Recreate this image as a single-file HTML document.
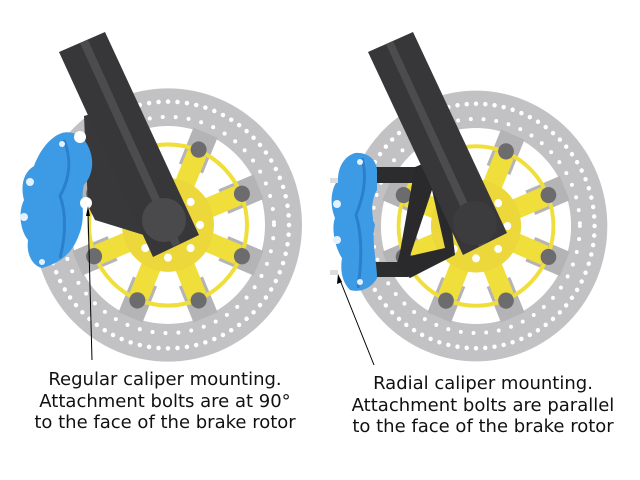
<!DOCTYPE html>
<html><head><meta charset="utf-8"><style>
html,body{margin:0;padding:0;background:#fff;width:640px;height:480px;overflow:hidden}
text{font-family:"DejaVu Sans","Liberation Sans",sans-serif;font-size:18px;fill:#111}
</style></head><body>
<svg width="640" height="480" viewBox="0 0 640 480" xmlns="http://www.w3.org/2000/svg">
<defs>
<g id="disc">
  <circle r="134" fill="#c2c2c4"/>
  <circle r="121" fill="none" stroke="#fff" stroke-width="4.5" stroke-dasharray="0 9.5" stroke-linecap="round"/>
  <circle r="106" fill="none" stroke="#fff" stroke-width="4" stroke-dasharray="0 13" stroke-linecap="round"/>
  <circle r="97" fill="#fff"/>
  <g stroke="#b4b4b6" stroke-width="26">
    <line x1="0" y1="-60" x2="0" y2="-98" transform="rotate(22.5)"/>
    <line x1="0" y1="-60" x2="0" y2="-98" transform="rotate(67.5)"/>
    <line x1="0" y1="-60" x2="0" y2="-98" transform="rotate(112.5)"/>
    <line x1="0" y1="-60" x2="0" y2="-98" transform="rotate(157.5)"/>
    <line x1="0" y1="-60" x2="0" y2="-98" transform="rotate(202.5)"/>
    <line x1="0" y1="-60" x2="0" y2="-98" transform="rotate(247.5)"/>
    <line x1="0" y1="-60" x2="0" y2="-98" transform="rotate(292.5)"/>
    <line x1="0" y1="-60" x2="0" y2="-98" transform="rotate(337.5)"/>
  </g>
  <circle r="79" fill="none" stroke="#f0df3a" stroke-width="4"/>
  <g stroke="#f0df3a" stroke-width="20">
    <line x1="0" y1="0" x2="0" y2="-76" transform="rotate(22.5)"/>
    <line x1="0" y1="0" x2="0" y2="-76" transform="rotate(67.5)"/>
    <line x1="0" y1="0" x2="0" y2="-76" transform="rotate(112.5)"/>
    <line x1="0" y1="0" x2="0" y2="-76" transform="rotate(157.5)"/>
    <line x1="0" y1="0" x2="0" y2="-76" transform="rotate(202.5)"/>
    <line x1="0" y1="0" x2="0" y2="-76" transform="rotate(247.5)"/>
    <line x1="0" y1="0" x2="0" y2="-76" transform="rotate(292.5)"/>
    <line x1="0" y1="0" x2="0" y2="-76" transform="rotate(337.5)"/>
  </g>
  <circle r="46" fill="#ecd83a"/>
  <circle r="32" fill="none" stroke="#fff" stroke-width="8" stroke-dasharray="0 25.1" stroke-linecap="round"/>
  <g fill="#6c6c6e">
    <circle cx="0" cy="-80" r="8" transform="rotate(22.5)"/>
    <circle cx="0" cy="-80" r="8" transform="rotate(67.5)"/>
    <circle cx="0" cy="-80" r="8" transform="rotate(112.5)"/>
    <circle cx="0" cy="-80" r="8" transform="rotate(157.5)"/>
    <circle cx="0" cy="-80" r="8" transform="rotate(202.5)"/>
    <circle cx="0" cy="-80" r="8" transform="rotate(247.5)"/>
    <circle cx="0" cy="-80" r="8" transform="rotate(292.5)"/>
    <circle cx="0" cy="-80" r="8" transform="rotate(337.5)"/>
  </g>
</g>
</defs>

<!-- LEFT -->
<use href="#disc" transform="translate(168,225) scale(1,1.02)"/>
<polygon points="84,116 120,105 160,240 95,220 88,206" fill="#38383a"/>
<polygon points="59,52 105,32 199,235 153,257" fill="#37373a"/>
<polygon points="80,43 88,40 180,243 173,247" fill="#4c4c4f"/>
<circle cx="164" cy="220" r="22" fill="#4a4a4d"/>
<path d="M62,133 C72,130 84,136 88,146 C95,160 93,175 84,185 C80,198 86,215 80,232 C74,250 64,262 42,268 C33,266 26,255 28,240 C20,230 18,212 24,200 C20,185 24,172 34,166 C40,150 50,137 62,133Z" fill="#3d9be6"/>
<path d="M64,140 C72,160 70,178 60,196 C66,212 66,235 60,258" stroke="#2a80cc" stroke-width="3" fill="none"/>
<circle cx="30" cy="182" r="4" fill="#e4f1ff"/><circle cx="24" cy="217" r="4" fill="#e4f1ff"/>
<circle cx="42" cy="262" r="3" fill="#e4f1ff"/><circle cx="62" cy="144" r="3" fill="#e4f1ff"/>
<circle cx="80" cy="137" r="6" fill="#fff"/><circle cx="86" cy="203" r="6" fill="#fff"/>
<line x1="88" y1="212" x2="92" y2="360" stroke="#000" stroke-width="1"/>
<polygon points="88,206 86,216 90,216" fill="#000"/>

<!-- RIGHT -->
<use href="#disc" transform="translate(476,226) scale(0.98,1.01)"/>
<rect x="372" y="167" width="48" height="16" fill="#2c2c2e"/>
<rect x="372" y="262" width="36" height="15" fill="#2c2c2e"/>
<path fill-rule="evenodd" d="M415,167 L432,160 L446,178 L455,255 L410,278 L396,268 L400,252 Z M432,190 L410,256 L445,248 Z" fill="#2a2a2c"/>
<polygon points="368,52 413,32 507,233 463,255" fill="#37373a"/>
<polygon points="386,44 393,41 486,243 479,247" fill="#4c4c4f"/>
<circle cx="475" cy="223" r="22" fill="#3c3c3f"/>
<path d="M355,153 C366,152 376,158 377,170 L377,190 C371,200 371,215 375,225 C371,240 377,262 377,278 C372,288 360,293 350,290 C342,282 340,270 342,258 C335,248 331,228 335,218 C330,206 330,190 338,180 C338,166 345,156 355,153Z" fill="#3d9be6"/>
<path d="M362,158 C368,180 362,200 356,215 C362,235 362,258 358,288" stroke="#2a80cc" stroke-width="3" fill="none"/>
<circle cx="337" cy="204" r="4" fill="#e4f1ff"/><circle cx="337" cy="240" r="4" fill="#e4f1ff"/>
<circle cx="360" cy="162" r="3" fill="#e4f1ff"/><circle cx="360" cy="282" r="3" fill="#e4f1ff"/>
<rect x="330" y="178" width="8" height="5" fill="#ddd"/><rect x="330" y="270" width="8" height="5" fill="#ddd"/>
<line x1="340" y1="280" x2="374" y2="365" stroke="#000" stroke-width="1"/>
<polygon points="338,274 337,284 342,282" fill="#000"/>

<text x="165" y="385" text-anchor="middle">Regular caliper mounting.</text>
<text x="165" y="407" text-anchor="middle">Attachment bolts are at 90°</text>
<text x="165" y="428" text-anchor="middle">to the face of the brake rotor</text>
<text x="483" y="389" text-anchor="middle">Radial caliper mounting.</text>
<text x="483" y="411" text-anchor="middle">Attachment bolts are parallel</text>
<text x="483" y="432" text-anchor="middle">to the face of the brake rotor</text>
</svg>
</body></html>
